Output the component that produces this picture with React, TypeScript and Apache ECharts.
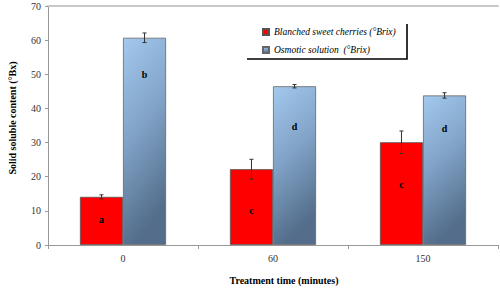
import React, { useEffect, useRef } from "react";
import * as echarts from "echarts";

const categories = ["0", "60", "150"];
const cherryValues = [14.1, 22.2, 30.1];
const cherryErrors = [0.6, 2.9, 3.3];
const solutionValues = [60.7, 46.5, 43.8];
const solutionErrors = [1.4, 0.5, 0.8];
const cherryLetters = ["a", "c", "c"];
const cherryLetterY = [7.4, 10.0, 17.6];
const solutionLetters = ["b", "d", "d"];
const solutionLetterY = [50.0, 34.8, 34.0];
const yTicks = { min: 0, max: 70, interval: 10 };
const seriesNames = ["Blanched sweet cherries (°Brix)", "Osmotic solution  (°Brix)"];

const BAR_FRAC = 0.287;
const FONT = "Liberation Serif";

export default function App() {
  const ref = useRef<HTMLDivElement>(null);
  useEffect(() => {
    if (!ref.current) return;
    const chart = echarts.init(ref.current, null, { renderer: "svg" });
    const errData: number[][] = [];
    cherryValues.forEach((v, i) => errData.push([i, v, cherryErrors[i], -1]));
    solutionValues.forEach((v, i) => errData.push([i, v, solutionErrors[i], 1]));
    const letterData: any[] = [];
    cherryLetters.forEach((l, i) => letterData.push({ value: [i, cherryLetterY[i], -1], name: l }));
    solutionLetters.forEach((l, i) => letterData.push({ value: [i, solutionLetterY[i], 1], name: l }));

    const blueGrad = new echarts.graphic.LinearGradient(0, 0, 0.25, 1, [
      { offset: 0, color: "#a3c9ee" },
      { offset: 0.5, color: "#80a2c6" },
      { offset: 1, color: "#536d8a" },
    ]);

    chart.setOption({
      animation: false,
      textStyle: { fontFamily: FONT },
      grid: { left: 48, right: 2, top: 6, bottom: 46 },
      legend: {
        orient: "vertical",
        left: 262,
        top: 27,
        padding: 0,
        itemWidth: 6,
        itemHeight: 6,
        itemGap: 8,
        textStyle: { fontFamily: FONT, fontStyle: "italic", fontSize: 9.5, color: "#000" },
        data: [
          { name: seriesNames[0], icon: "rect" },
          { name: seriesNames[1], icon: "rect" },
        ],
      },
      graphic: [
        {
          type: "polyline",
          shape: { points: [[407, 24], [407, 59], [247, 59]] },
          style: { stroke: "#000", lineWidth: 1.6, fill: "none" },
          z: 10,
        },
        {
          type: "text",
          x: 284,
          y: 280,
          style: {
            text: "Treatment time (minutes)",
            font: `bold 10px ${FONT}`,
            fill: "#000",
            align: "center",
            verticalAlign: "middle",
          },
        },
        {
          type: "text",
          x: 12,
          y: 118,
          rotation: Math.PI / 2,
          style: {
            text: "Solid soluble content (°Bx)",
            font: `bold 10px ${FONT}`,
            fill: "#000",
            align: "center",
            verticalAlign: "middle",
          },
        },
      ],
      xAxis: [
        {
          type: "category",
          data: categories,
          axisLine: { lineStyle: { color: "#999", width: 1 } },
          axisTick: { show: true, length: 4, alignWithLabel: false, lineStyle: { color: "#999" } },
          axisLabel: { fontFamily: FONT, fontSize: 10, color: "#333", margin: 8 },
        },
        {
          type: "category",
          data: categories,
          position: "top",
          axisLine: { lineStyle: { color: "#c8c8c8", width: 2 } },
          axisTick: { show: false },
          axisLabel: { show: false },
        },
      ],
      yAxis: {
        type: "value",
        min: yTicks.min,
        max: yTicks.max,
        interval: yTicks.interval,
        axisLine: { show: true, lineStyle: { color: "#999" } },
        axisTick: { show: true, length: 3, lineStyle: { color: "#999" } },
        splitLine: { show: false },
        axisLabel: { fontFamily: FONT, fontSize: 10, color: "#333", margin: 7 },
      },
      series: [
        {
          name: seriesNames[0],
          type: "bar",
          data: cherryValues,
          barWidth: (BAR_FRAC * 100).toFixed(1) + "%",
          barGap: "0%",
          itemStyle: { color: "#ff0000", borderColor: "#555", borderWidth: 0.8 },
        },
        {
          name: seriesNames[1],
          type: "bar",
          data: solutionValues,
          barWidth: (BAR_FRAC * 100).toFixed(1) + "%",
          barGap: "0%",
          itemStyle: { color: blueGrad, borderColor: "#666", borderWidth: 0.8 },
        },
        {
          type: "custom",
          data: errData,
          z: 5,
          silent: true,
          encode: { x: 0, y: 1 },
          renderItem: (params: any, api: any) => {
            const x = api.value(0);
            const v = api.value(1);
            const e = api.value(2);
            const side = api.value(3);
            const band = api.size([1, 0])[0];
            const bw = band * BAR_FRAC;
            const c = api.coord([x, v]);
            const cx = c[0] + (side * bw) / 2;
            const top = api.coord([x, v + e])[1];
            const bot = api.coord([x, v - e])[1];
            const st = { stroke: "#333", lineWidth: 1 };
            return {
              type: "group",
              children: [
                { type: "line", shape: { x1: cx, y1: top, x2: cx, y2: bot }, style: st },
                { type: "line", shape: { x1: cx - 2, y1: top, x2: cx + 2, y2: top }, style: st },
                { type: "line", shape: { x1: cx - 2, y1: bot, x2: cx + 2, y2: bot }, style: st },
              ],
            };
          },
        },
        {
          type: "custom",
          data: letterData,
          z: 6,
          silent: true,
          encode: { x: 0, y: 1 },
          renderItem: (params: any, api: any) => {
            const x = api.value(0);
            const y = api.value(1);
            const side = api.value(2);
            const band = api.size([1, 0])[0];
            const bw = band * BAR_FRAC;
            const c = api.coord([x, y]);
            const item = letterData[params.dataIndex];
            return {
              type: "text",
              x: c[0] + (side * bw) / 2,
              y: c[1],
              style: {
                text: item.name,
                font: `bold 10px ${FONT}`,
                fill: "#000",
                align: "center",
                verticalAlign: "middle",
              },
            };
          },
        },
      ],
    });
    return () => chart.dispose();
  }, []);
  return <div ref={ref} style={{ width: 500, height: 291, position: "absolute", left: 0, top: 0 }} />;
}
